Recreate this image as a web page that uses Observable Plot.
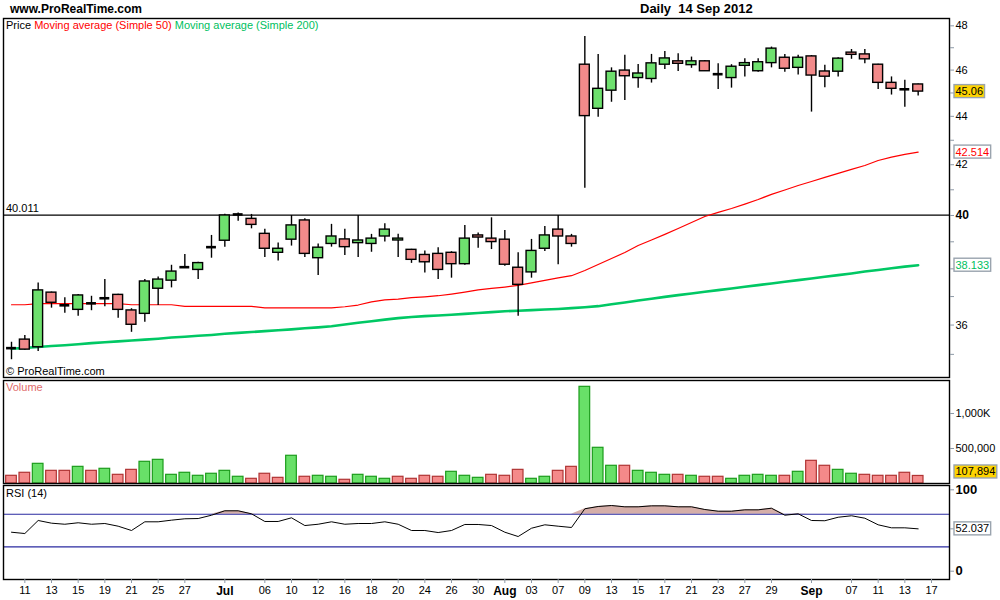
<!DOCTYPE html>
<html><head><meta charset="utf-8">
<script src="https://cdn.jsdelivr.net/npm/d3@7"></script>
<script src="https://cdn.jsdelivr.net/npm/@observablehq/plot@0.6"></script>
<style>
body{margin:0;background:#fff;font-family:"Liberation Sans",Arial,Helvetica,sans-serif;}
#wrap{position:relative;width:1000px;height:600px;overflow:hidden;background:#fff}
.abs{position:absolute;white-space:pre;line-height:1}
svg{display:block}
</style></head><body><div id="wrap"></div>
<script>
// ---------------- data ----------------
const dates = ["2012-06-08","2012-06-11","2012-06-12","2012-06-13","2012-06-14","2012-06-15","2012-06-18","2012-06-19","2012-06-20","2012-06-21","2012-06-22","2012-06-25","2012-06-26","2012-06-27","2012-06-28","2012-06-29",
"2012-07-02","2012-07-03","2012-07-05","2012-07-06","2012-07-09","2012-07-10","2012-07-11","2012-07-12","2012-07-13","2012-07-16","2012-07-17","2012-07-18","2012-07-19","2012-07-20","2012-07-23","2012-07-24","2012-07-25","2012-07-26","2012-07-27","2012-07-30","2012-07-31",
"2012-08-01","2012-08-02","2012-08-03","2012-08-06","2012-08-07","2012-08-08","2012-08-09","2012-08-10","2012-08-13","2012-08-14","2012-08-15","2012-08-16","2012-08-17","2012-08-20","2012-08-21","2012-08-22","2012-08-23","2012-08-24","2012-08-27","2012-08-28","2012-08-29","2012-08-30","2012-08-31",
"2012-09-04","2012-09-05","2012-09-06","2012-09-07","2012-09-10","2012-09-11","2012-09-12","2012-09-13","2012-09-14"];
const open = [35.21,35.50,35.24,37.14,36.69,36.53,36.76,36.94,37.06,36.51,36.39,37.28,37.57,38.06,37.96,38.80,39.04,40.04,39.87,39.30,38.59,39.08,39.81,38.39,38.92,39.09,38.95,38.92,39.20,39.05,38.70,38.51,38.55,38.59,38.17,39.24,39.12,39.08,38.04,37.87,38.74,39.46,39.20,46.24,44.32,45.10,45.98,45.65,45.61,46.24,46.39,46.22,46.39,45.82,45.65,46.19,45.95,46.31,46.55,46.10,46.61,45.94,45.93,46.78,46.70,46.24,45.44,45.16,45.37];
const high = [35.41,35.64,37.49,37.16,36.96,37.07,37.01,37.61,37.08,36.57,37.61,37.70,38.13,38.53,38.24,39.24,40.05,40.10,40.04,39.47,38.96,40.00,39.87,38.92,39.66,39.47,40.00,39.28,39.68,39.28,38.72,38.66,38.78,38.63,39.62,39.33,39.91,39.43,38.59,39.09,39.58,40.00,39.28,47.51,46.70,46.10,46.66,46.25,46.70,46.83,46.73,46.58,46.43,46.28,46.24,46.51,46.51,47.03,46.70,46.66,46.65,46.21,46.55,46.92,46.92,46.26,45.70,45.55,45.39];
const low = [34.82,35.14,35.10,36.59,36.41,36.31,36.50,36.64,36.24,35.75,36.10,36.68,37.31,38.04,37.61,38.39,38.80,39.78,39.49,38.42,38.29,38.84,38.42,37.76,38.80,38.49,38.42,38.61,38.99,38.42,38.20,37.85,37.61,37.66,38.13,38.76,38.71,38.09,36.31,37.66,38.64,38.15,38.80,41.06,43.96,44.60,44.68,45.21,45.43,46.03,45.94,46.08,45.95,45.15,45.21,45.70,45.91,46.10,45.91,45.78,44.18,45.23,45.70,46.48,46.28,45.15,44.91,44.39,44.87];
const close = [35.21,35.16,37.22,36.78,36.69,37.04,36.76,36.94,36.53,36.01,37.54,37.61,37.90,38.06,38.21,38.80,40.00,40.04,39.64,38.74,38.74,39.62,38.55,38.78,39.20,38.80,39.05,39.12,39.46,39.12,38.33,38.24,37.96,38.17,39.12,39.16,38.99,38.15,37.42,38.66,39.24,39.20,38.92,44.01,45.18,45.93,45.73,45.85,46.30,46.52,46.28,46.39,45.95,45.82,46.15,46.31,46.35,46.96,46.06,46.55,45.76,45.71,46.51,46.68,46.48,45.44,45.18,45.16,45.06];
const volume = [110000,153000,281000,181000,181000,238000,181000,210000,124000,195000,310000,338000,124000,153000,110000,139000,181000,96000,67000,139000,81000,396000,96000,110000,96000,53000,124000,96000,67000,96000,67000,110000,96000,167000,110000,81000,124000,110000,195000,67000,96000,181000,238000,1381000,510000,253000,253000,181000,153000,124000,124000,110000,96000,96000,67000,110000,124000,110000,110000,167000,324000,253000,195000,139000,124000,110000,110000,153000,107894];
const volumeUp = [0,0,1,0,0,1,0,1,0,0,1,1,1,1,1,1,1,1,0,0,0,1,0,1,1,0,1,1,1,0,0,0,0,1,1,1,0,0,0,1,1,0,0,1,1,1,0,1,1,1,0,1,0,0,1,1,1,1,0,1,0,0,1,1,0,0,0,0,0];
const ma50 = [36.71,36.71,36.75,36.75,36.75,36.75,36.75,36.75,36.75,36.71,36.71,36.71,36.71,36.65,36.65,36.65,36.65,36.65,36.65,36.60,36.60,36.60,36.60,36.60,36.60,36.64,36.70,36.81,36.88,36.91,36.96,36.99,37.03,37.09,37.16,37.24,37.29,37.34,37.40,37.49,37.58,37.67,37.75,37.94,38.16,38.38,38.60,38.86,39.07,39.28,39.50,39.73,39.96,40.12,40.27,40.44,40.62,40.82,40.99,41.17,41.33,41.49,41.65,41.81,41.97,42.17,42.31,42.42,42.51];
const ma200 = [35.19,35.22,35.25,35.28,35.31,35.34,35.38,35.41,35.44,35.47,35.50,35.53,35.57,35.60,35.63,35.66,35.70,35.73,35.76,35.79,35.82,35.85,35.89,35.92,35.96,36.02,36.08,36.13,36.19,36.24,36.28,36.31,36.33,36.36,36.39,36.42,36.45,36.48,36.50,36.52,36.54,36.56,36.59,36.62,36.66,36.73,36.79,36.86,36.92,36.99,37.05,37.11,37.17,37.23,37.29,37.35,37.41,37.47,37.53,37.59,37.65,37.71,37.77,37.83,37.90,37.96,38.02,38.08,38.13];
const rsi = [47.9,46.3,62.3,59.0,57.7,59.5,57.7,58.6,55.3,50.0,60.7,60.7,62.7,64.4,64.7,68.8,74.2,74.2,70.5,61.1,61.1,65.6,56.1,57.7,60.7,57.7,58.6,58.6,60.7,57.7,50.0,50.0,47.5,50.0,57.4,57.4,56.1,47.9,42.6,52.8,57.0,55.3,53.7,76.7,79.5,80.7,79.1,79.1,80.3,80.3,79.1,79.1,75.8,73.7,73.7,75.4,75.4,77.4,68.8,70.5,62.3,62.0,66.3,68.1,65.1,57.0,53.3,53.3,52.04];
const lastMA50 = 42.514, lastMA200 = 38.133, lastRSI = 52.037, levelLine = 40.011;
const priceTicks = [48,46,44,42,36];
const priceBoldTicks = [40];
const priceMinorTicks = [47,45,43,41,39,38,37,35];
const volumeTicks = [500000,1000000];
const volumeTickLabels = ["500,000","1,000K"];
const rsiTicks = [100,0];
const rsiLevels = [70,30];
const tickDates = ["2012-06-11","2012-06-13","2012-06-15","2012-06-19","2012-06-21","2012-06-25","2012-06-27","2012-07-02","2012-07-06","2012-07-10","2012-07-12","2012-07-16","2012-07-18","2012-07-20","2012-07-24","2012-07-26","2012-07-30","2012-08-01","2012-08-03","2012-08-07","2012-08-09","2012-08-13","2012-08-15","2012-08-17","2012-08-21","2012-08-23","2012-08-27","2012-08-29","2012-09-04","2012-09-07","2012-09-11","2012-09-13","2012-09-17"];
const tickLabels = ["11","13","15","19","21","25","27","Jul","06","10","12","16","18","20","24","26","30","Aug","03","07","09","13","15","17","21","23","27","29","Sep","07","11","13","17"];
const monthNames = ["Jul","Aug","Sep"];

// ---------------- build ----------------
const wrap = document.getElementById("wrap");
const FONT = '"Liberation Sans", Arial, Helvetica, sans-serif';
const rows = dates.map((date,k)=>({k,date,o:open[k],h:high[k],l:low[k],c:close[k],v:volume[k],up:volumeUp[k],m50:ma50[k],m200:ma200[k],r:rsi[k]}));
const tickK = tickDates.map(d => { const j = dates.indexOf(d); return j >= 0 ? j : dates.length; });
const labelOf = new Map(tickK.map((k,j)=>[k,tickLabels[j]]));
const boldK = tickK.filter(k => monthNames.includes(labelOf.get(k)));
const normK = tickK.filter(k => !monthNames.includes(labelOf.get(k)));

const X = {type:"linear", domain:[-0.6, 70.35]};
const TICK = "#8d99a6";
const BOX = "#9aa4ae";
const base = {width:1000, marginLeft:3, marginRight:51, marginTop:0,
  color:{type:"identity"},
  style:{fontFamily:FONT, fontSize:"11px", background:"transparent", overflow:"visible", color:"#000"}};

function place(svg, top){ svg.style.position="absolute"; svg.style.left="0px"; svg.style.top=top+"px"; wrap.appendChild(svg); return svg; }
// draw a framed box behind the text element whose content is `str`
function boxify(svg, str, fill){
  svg.querySelectorAll("text").forEach(t=>{
    if (t.textContent !== str) return;
    const b = t.getBBox();
    const r = document.createElementNS("http://www.w3.org/2000/svg","rect");
    r.setAttribute("x", b.x-1.5); r.setAttribute("y", b.y-0.5);
    r.setAttribute("width", b.width+3); r.setAttribute("height", b.height+1);
    r.setAttribute("fill", fill); r.setAttribute("stroke", BOX); r.setAttribute("stroke-width", 1.4);
    if (t.getAttribute("transform")) r.setAttribute("transform", t.getAttribute("transform"));
    t.parentNode.insertBefore(r, t);
  });
}
function label(text, left, top, color, extra){
  const d = document.createElement("div"); d.className="abs";
  d.style.left=left+"px"; d.style.top=top+"px"; d.style.color=color||"#000";
  d.style.fontSize="11px"; if (extra) Object.assign(d.style, extra);
  d.textContent=text; wrap.appendChild(d); return d;
}

const bodies = rows.filter(d=>d.o!==d.c);
const dojis = rows.filter(d=>d.o===d.c);
const lastClose = close[close.length-1];
const lastVol = volume[volume.length-1];

// price panel
const price = place(Plot.plot({...base, height:359, marginBottom:0,
  x:{...X, axis:null},
  y:{type:"log", domain:[34.23, 48.34]},
  marks:[
    Plot.ruleY([levelLine], {stroke:"#000", strokeWidth:1.3}),
    Plot.line(rows, {x:"k", y:"m200", stroke:"#00c864", strokeWidth:2.6}),
    Plot.line(rows, {x:"k", y:"m50", stroke:"#ff0000", strokeWidth:1.2}),
    Plot.ruleX(rows, {x:"k", y1:"l", y2:"h", stroke:"#000", strokeWidth:1.4}),
    Plot.rect(bodies, {x1:d=>d.k-0.37, x2:d=>d.k+0.37, y1:d=>Math.min(d.o,d.c), y2:d=>Math.max(d.o,d.c),
      fill:d=>d.c>d.o?"#6ee06e":"#f28a8a", stroke:"#000", strokeWidth:1.4}),
    Plot.ruleY(dojis, {y:"c", x1:d=>d.k-0.37, x2:d=>d.k+0.37, stroke:"#000", strokeWidth:2.6}),
    Plot.frame({stroke:"#000", strokeWidth:1.4}),
    Plot.axisY(priceMinorTicks, {anchor:"right", tickSize:4, stroke:TICK, fill:"none", label:null}),
    Plot.axisY(priceTicks, {anchor:"right", tickSize:4, tickPadding:2, stroke:TICK, fill:"#000", tickFormat:d=>String(d), label:null}),
    Plot.axisY(priceBoldTicks, {anchor:"right", tickSize:4, tickPadding:2, stroke:TICK, fill:"#000", fontWeight:"bold", fontSize:12, tickFormat:d=>String(d), label:null}),
    Plot.text([lastClose], {y:d=>d, text:d=>d.toFixed(2), frameAnchor:"right", textAnchor:"start", dx:6, fill:"#000"}),
    Plot.text([lastMA50], {y:d=>d, text:d=>d.toFixed(3), frameAnchor:"right", textAnchor:"start", dx:6, fill:"#ff0000"}),
    Plot.text([lastMA200], {y:d=>d, text:d=>d.toFixed(3), frameAnchor:"right", textAnchor:"start", dx:6, fill:"#00c060"})
  ]}), 18);
boxify(price, lastClose.toFixed(2), "#ffd400");
boxify(price, lastMA50.toFixed(3), "#fff");
boxify(price, lastMA200.toFixed(3), "#fff");

// volume panel
const vol = place(Plot.plot({...base, height:103, marginBottom:0,
  x:{...X, axis:null},
  y:{domain:[0, 1471400]},
  marks:[
    Plot.rect(rows, {x1:d=>d.k-0.4, x2:d=>d.k+0.4, y1:0, y2:"v",
      fill:d=>d.up?"#68e068":"#f48a8a", stroke:d=>d.up?"#1c9c1c":"#b03434", strokeWidth:1.2}),
    Plot.frame({stroke:"#000", strokeWidth:1.4}),
    Plot.axisY(volumeTicks, {anchor:"right", tickSize:4, tickPadding:2, stroke:TICK, fill:"#000", tickFormat:d=>volumeTickLabels[volumeTicks.indexOf(d)], label:null}),
    Plot.text([lastVol], {y:d=>d, text:d=>d3.format(",")(d), frameAnchor:"right", textAnchor:"start", dx:6, dy:-4, fill:"#000"})
  ]}), 380);
boxify(vol, d3.format(",")(lastVol), "#ffd400");

// RSI panel + date axis
const rs = place(Plot.plot({...base, height:115, marginBottom:21,
  x:{...X},
  y:{domain:[-10.2, 105.3]},
  marks:[
    Plot.areaY(rows, {x:"k", y1:70, y2:d=>Math.max(d.r,70), fill:"#d5aea8"}),
    Plot.ruleY(rsiLevels, {stroke:"#2a2aa0", strokeWidth:1.2}),
    Plot.line(rows, {x:"k", y:"r", stroke:"#000", strokeWidth:1}),
    Plot.frame({stroke:"#000", strokeWidth:1.4}),
    Plot.axisY(rsiTicks, {anchor:"right", tickSize:4, tickPadding:2, stroke:TICK, fill:"#000", fontWeight:"bold", fontSize:13, tickFormat:d=>String(d), label:null}),
    Plot.axisY([lastRSI], {anchor:"right", tickSize:4, stroke:TICK, fill:"none", label:null}),
    Plot.text([lastRSI], {y:d=>d, text:d=>d.toFixed(3), frameAnchor:"right", textAnchor:"start", dx:6, fill:"#000"}),
    Plot.axisX(normK, {anchor:"bottom", tickSize:4, tickPadding:3, stroke:TICK, fill:"#000", tickFormat:k=>labelOf.get(k), label:null}),
    Plot.axisX(boldK, {anchor:"bottom", tickSize:4, tickPadding:3, stroke:TICK, fill:"#000", fontWeight:"bold", fontSize:12, tickFormat:k=>labelOf.get(k), label:null})
  ]}), 485);
boxify(rs, lastRSI.toFixed(3), "#fff");

// text overlays
label("www.ProRealTime.com", 10, 3, "#000", {fontSize:"12px", fontWeight:"bold"});
label("Daily  14 Sep 2012", 640, 2, "#000", {fontSize:"13px", fontWeight:"bold"});
const leg = label("", 6, 20);
[["Price ","#000"],["Moving average (Simple 50) ","#ff0000"],["Moving average (Simple 200)","#00c060"]].forEach(([t,c])=>{
  const s=document.createElement("span"); s.textContent=t; s.style.color=c; leg.appendChild(s);
});
label("40.011", 6, 203);
label("\u00a9 ProRealTime.com", 6, 366);
label("Volume", 6, 382, "#e06a6a");
label("RSI (14)", 6, 488);
</script></body></html>
